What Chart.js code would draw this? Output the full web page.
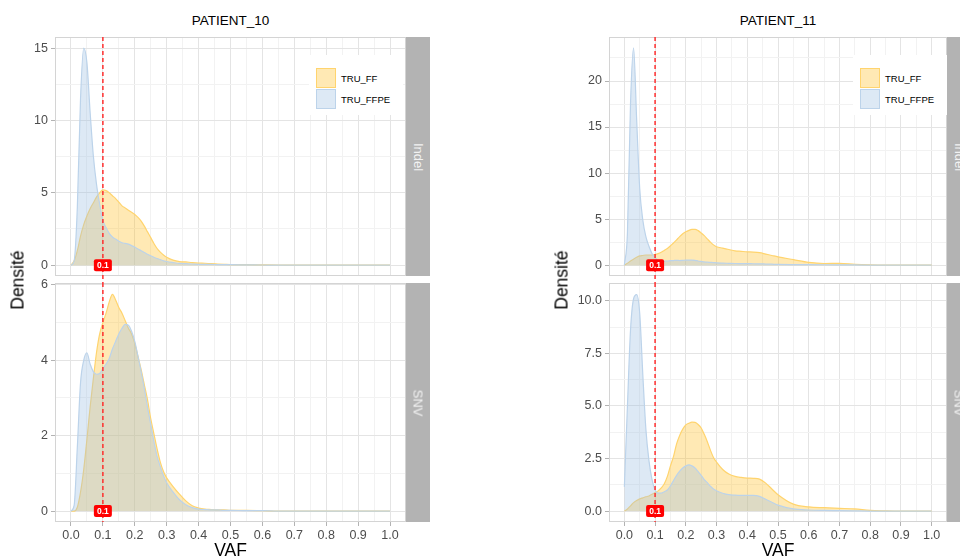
<!DOCTYPE html>
<html>
  <head>
    <meta charset="utf-8">
    <style type="text/css">
    body { margin: 0; width: 960px; height: 560px; overflow: hidden; background: #fff; position: relative; font-family: "Liberation Sans", Arial, sans-serif; }
    canvas { position: absolute; }
    .lbl { position: absolute; white-space: nowrap; transform: translate(-50%, -50%); color: #000; }
    .title { font-size: 13.5px; }
    .axt { font-size: 17.5px; }
    .rot { transform: translate(-50%, -50%) rotate(-90deg); }
    .strip { position: absolute; width: 24px; height: 239px; background: #b3b3b3; overflow: hidden; }
    .strip span { position: absolute; left: 12px; top: 119.5px; color: #f2f2f2; font-size: 13px; white-space: nowrap; transform: translate(-50%, -50%) rotate(90deg); }
    .legend { position: absolute; top: 55px; width: 94px; height: 60px; background: #fff; }
    .key { position: absolute; left: 7px; width: 18px; height: 18px; border: 1px solid; }
    .key-text { position: absolute; left: 32px; font-size: 9.5px; color: #000; transform: translateY(-50%); white-space: nowrap; }
    </style>
  </head>
  <body>
    <script src="https://cdn.jsdelivr.net/npm/chart.js@4.4.1/dist/chart.umd.min.js"></script>

    <canvas id="p10indel"></canvas>
    <canvas id="p10snv"></canvas>
    <canvas id="p11indel"></canvas>
    <canvas id="p11snv"></canvas>

    <div class="lbl title" style="left:230.5px; top:20px;">PATIENT_10</div>
    <div class="lbl title" style="left:778px; top:20px;">PATIENT_11</div>
    <div class="lbl axt rot" style="left:18px; top:280px;">Densité</div>
    <div class="lbl axt rot" style="left:562px; top:280px;">Densité</div>
    <div class="lbl axt" style="left:230.5px; top:550px;">VAF</div>
    <div class="lbl axt" style="left:778px; top:550px;">VAF</div>

    <div class="strip" style="left:406px; top:37px;"><span>Indel</span></div>
    <div class="strip" style="left:406px; top:283px;"><span>SNV</span></div>
    <div class="strip" style="left:947px; top:37px;"><span>Indel</span></div>
    <div class="strip" style="left:947px; top:283px;"><span>SNV</span></div>

    <div class="legend" id="leg1" style="left:309px;"></div>
    <div class="legend" id="leg2" style="left:853px;"></div>

    <script>
      /* datas */
      const seriesNames = ['TRU_FF', 'TRU_FFPE'];
      const cutoff = 0.1;

      // VAF grid shared by all density curves
      const vaf = [0, 0.01, 0.02, 0.03, 0.04, 0.05, 0.06, 0.07, 0.08, 0.09,
        0.10, 0.11, 0.12, 0.13, 0.14, 0.15, 0.16, 0.17, 0.18, 0.19,
        0.20, 0.21, 0.22, 0.23, 0.24, 0.25, 0.26, 0.27, 0.28, 0.29, 0.30,
        0.32, 0.34, 0.36, 0.38, 0.40, 0.42, 0.44, 0.46, 0.48, 0.50,
        0.55, 0.60, 0.65, 0.70, 0.75, 0.80, 0.85, 0.90, 0.95, 1.00];

      const p10IndelFF = [0, 0.3, 1.0, 2.0, 2.8, 3.4, 3.9, 4.3, 4.7, 5.0,
        5.2, 5.15, 5.0, 4.8, 4.6, 4.35, 4.1, 3.95, 3.8, 3.65,
        3.5, 3.3, 3.05, 2.7, 2.3, 1.9, 1.5, 1.15, 0.9, 0.7, 0.55,
        0.35, 0.25, 0.22, 0.18, 0.15, 0.13, 0.10, 0.08, 0.06, 0.04,
        0.03, 0.02, 0.01, 0, 0, 0, 0, 0, 0, 0];
      const p10IndelFFPE = [0, 0.3, 4.0, 11.5, 15.0, 14.0, 10.6, 7.6, 5.6, 4.2,
        3.1, 2.6, 2.2, 1.95, 1.8, 1.65, 1.55, 1.5, 1.45, 1.35,
        1.25, 1.12, 1.0, 0.88, 0.75, 0.65, 0.55, 0.46, 0.38, 0.3, 0.25,
        0.18, 0.12, 0.10, 0.08, 0.06, 0.05, 0.05, 0.04, 0.04, 0.03,
        0.02, 0.01, 0, 0, 0, 0, 0, 0, 0, 0];

      const p10SnvFF = [0, 0, 0.1, 0.5, 1.1, 1.9, 2.75, 3.5, 4.2, 4.7,
        5.0, 5.25, 5.55, 5.75, 5.6, 5.4, 5.25, 5.05, 4.85, 4.7,
        4.45, 4.1, 3.75, 3.35, 2.95, 2.45, 2.05, 1.65, 1.3, 1.05, 0.88,
        0.65, 0.45, 0.27, 0.14, 0.08, 0.05, 0.04, 0.03, 0.03, 0.02,
        0.02, 0.01, 0, 0, 0, 0, 0, 0, 0, 0];
      const p10SnvFFPE = [0, 0.15, 1.7, 3.4, 4.0, 4.2, 3.9, 3.7, 3.63, 3.65,
        3.78, 3.9, 4.05, 4.3, 4.5, 4.7, 4.85, 4.95, 4.93, 4.77,
        4.5, 4.11, 3.7, 3.25, 2.75, 2.3, 1.85, 1.45, 1.18, 0.94, 0.75,
        0.5, 0.3, 0.17, 0.09, 0.05, 0.04, 0.03, 0.03, 0.02, 0.02,
        0.01, 0.01, 0, 0, 0, 0, 0, 0, 0, 0];

      const p11IndelFF = [0, 0.2, 0.45, 0.65, 0.85, 1.0, 1.05, 1.1, 1.1, 1.1,
        1.15, 1.25, 1.4, 1.6, 1.8, 2.1, 2.4, 2.75, 3.1, 3.4,
        3.62, 3.78, 3.88, 3.88, 3.75, 3.5, 3.2, 2.85, 2.5, 2.2, 2.0,
        1.85, 1.7, 1.55, 1.5, 1.45, 1.42, 1.35, 1.2, 1.05, 0.9,
        0.6, 0.3, 0.18, 0.2, 0.08, 0.02, 0, 0, 0, 0];
      const p11IndelFFPE = [0, 3.5, 17.5, 23.6, 15.8, 8.3, 4.9, 3.1, 2.05, 1.25,
        0.78, 0.55, 0.48, 0.45, 0.45, 0.48, 0.5, 0.52, 0.5, 0.52,
        0.55, 0.55, 0.55, 0.52, 0.45, 0.4, 0.35, 0.32, 0.3, 0.28, 0.25,
        0.22, 0.2, 0.18, 0.17, 0.16, 0.15, 0.14, 0.12, 0.1, 0.08,
        0.06, 0.05, 0.04, 0.03, 0.02, 0.01, 0, 0, 0, 0];

      const p11SnvFF = [0, 0.1, 0.25, 0.4, 0.5, 0.58, 0.63, 0.68, 0.72, 0.8,
        0.88, 0.96, 1.1, 1.3, 1.65, 2.15, 2.6, 3.2, 3.6, 3.9,
        4.1, 4.18, 4.23, 4.22, 4.12, 3.95, 3.65, 3.3, 2.9, 2.55, 2.33,
        1.98, 1.76, 1.65, 1.6, 1.57, 1.56, 1.52, 1.33, 1.05, 0.78,
        0.33, 0.2, 0.16, 0.13, 0.1, 0.03, 0.01, 0, 0, 0];
      const p11SnvFFPE = [1.15, 5.0, 8.6, 10.1, 10.3, 9.4, 6.5, 3.9, 2.4, 1.5,
        1.0, 0.85, 0.85, 0.92, 1.0, 1.2, 1.45, 1.7, 1.9, 2.05,
        2.15, 2.2, 2.15, 2.05, 1.88, 1.7, 1.5, 1.35, 1.18, 1.05, 0.97,
        0.85, 0.78, 0.76, 0.75, 0.75, 0.75, 0.7, 0.56, 0.42, 0.28,
        0.1, 0.05, 0.03, 0.02, 0.01, 0, 0, 0, 0, 0];

      /* tick labels */
      const xMajor = [0, 0.1, 0.2, 0.3, 0.4, 0.5, 0.6, 0.7, 0.8, 0.9, 1.0];
      const xMinor = [0.05, 0.15, 0.25, 0.35, 0.45, 0.55, 0.65, 0.75, 0.85, 0.95];
      const p10IndelTicks = [0, 5, 10, 15];
      const p10IndelMinor = [2.5, 7.5, 12.5];
      const p10SnvTicks = [0, 2, 4, 6];
      const p10SnvMinor = [1, 3, 5];
      const p11IndelTicks = [0, 5, 10, 15, 20];
      const p11IndelMinor = [2.5, 7.5, 12.5, 17.5, 22.5];
      const p11SnvTicks = [0, 2.5, 5, 7.5, 10];
      const p11SnvMinor = [1.25, 3.75, 6.25, 8.75];

      /* styles */
      const ffFill = 'rgba(255,192,41,0.35)';
      const ffLine = '#ffd46e';
      const ffpeFill = 'rgba(158,192,226,0.35)';
      const ffpeLine = '#bcd3ea';
      const majorGrid = '#e4e4e4';
      const minorGrid = '#f2f2f2';
      Chart.defaults.font.family = '"Liberation Sans", Arial, sans-serif';

      const panels = [
        { id: 'p10indel', left: 0, top: 30, width: 430, height: 253, padTop: 7, padBottom: 7, padRight: 24,
          yMin: -0.75, yMax: 15.77, major: p10IndelTicks, minor: p10IndelMinor, ff: p10IndelFF, ffpe: p10IndelFFPE, digits: 0, xAxis: false },
        { id: 'p10snv', left: 0, top: 270, width: 430, height: 290, padTop: 13, padBottom: 0, padRight: 24,
          yMin: -0.29, yMax: 6.05, major: p10SnvTicks, minor: p10SnvMinor, ff: p10SnvFF, ffpe: p10SnvFFPE, digits: 0, xAxis: true },
        { id: 'p11indel', left: 554, top: 30, width: 406, height: 253, padTop: 7, padBottom: 7, padRight: 13,
          yMin: -1.18, yMax: 24.78, major: p11IndelTicks, minor: p11IndelMinor, ff: p11IndelFF, ffpe: p11IndelFFPE, digits: 0, xAxis: false },
        { id: 'p11snv', left: 554, top: 270, width: 406, height: 290, padTop: 13, padBottom: 0, padRight: 13,
          yMin: -0.52, yMax: 10.85, major: p11SnvTicks, minor: p11SnvMinor, ff: p11SnvFF, ffpe: p11SnvFFPE, digits: 1, xAxis: true }
      ];

      const isIn = (arr, v) => arr.some(a => Math.abs(a - v) < 1e-9);

      /* border, cutoff line and its label */
      const panelDeco = (p) => ({
        id: 'panelDeco',
        afterDatasetsDraw(chart) {
          const ctx = chart.ctx;
          const a = chart.chartArea;
          const x = chart.scales.x.getPixelForValue(cutoff);
          const y0 = chart.scales.y.getPixelForValue(0);
          ctx.save();
          ctx.strokeStyle = '#d4d4d4';
          ctx.lineWidth = 1;
          ctx.strokeRect(a.left + 0.5, a.top + 0.5, a.right - a.left - 1, a.bottom - a.top - 1);
          ctx.strokeStyle = 'rgba(255,40,40,0.85)';
          ctx.lineWidth = 1.7;
          ctx.setLineDash([4, 3]);
          ctx.beginPath();
          ctx.moveTo(x, a.top);
          ctx.lineTo(x, a.bottom + p.padBottom);
          ctx.stroke();
          ctx.setLineDash([]);
          ctx.fillStyle = '#ff0000';
          ctx.beginPath();
          ctx.roundRect(x - 9, y0 - 6, 18, 12, 2);
          ctx.fill();
          ctx.fillStyle = '#ffffff';
          ctx.font = 'bold 8.5px "Liberation Sans", Arial, sans-serif';
          ctx.textAlign = 'center';
          ctx.textBaseline = 'middle';
          ctx.fillText(cutoff.toFixed(1), x, y0 + 0.5);
          ctx.restore();
        }
      });

      const noPad = (s) => { s.paddingTop = 0; s.paddingBottom = 0; s.paddingLeft = 0; s.paddingRight = 0; };

      function makePanel(p) {
        const cv = document.getElementById(p.id);
        cv.width = p.width;
        cv.height = p.height;
        cv.style.left = p.left + 'px';
        cv.style.top = p.top + 'px';
        const xTicks = xMajor.concat(xMinor).sort((a, b) => a - b);
        const yTicks = p.major.concat(p.minor).sort((a, b) => a - b);
        return new Chart(cv, {
          type: 'line',
          data: {
            datasets: [
              { label: seriesNames[0], data: vaf.map((v, i) => ({ x: v, y: p.ff[i] })),
                borderColor: ffLine, backgroundColor: ffFill, fill: 'origin', order: 2 },
              { label: seriesNames[1], data: vaf.map((v, i) => ({ x: v, y: p.ffpe[i] })),
                borderColor: ffpeLine, backgroundColor: ffpeFill, fill: 'origin', order: 1 }
            ]
          },
          options: {
            responsive: false,
            animation: false,
            layout: { padding: { left: 0, right: p.padRight, top: p.padTop, bottom: p.padBottom } },
            elements: {
              point: { radius: 0 },
              line: { borderWidth: 1.2, cubicInterpolationMode: 'monotone' }
            },
            plugins: { legend: { display: false }, tooltip: { enabled: false } },
            scales: {
              x: {
                type: 'linear', min: -0.05, max: 1.05,
                afterBuildTicks: s => { s.ticks = xTicks.map(v => ({ value: v })); },
                afterFit: s => { s.height = p.xAxis ? 38 : 0; noPad(s); },
                border: { display: false },
                grid: {
                  color: c => isIn(xMajor, c.tick.value) ? majorGrid : minorGrid,
                  drawTicks: p.xAxis, tickLength: 4,
                  tickColor: c => isIn(xMajor, c.tick.value) ? '#b3b3b3' : 'rgba(0,0,0,0)'
                },
                ticks: {
                  display: p.xAxis, autoSkip: false, maxRotation: 0, padding: 2,
                  color: '#4d4d4d', font: { size: 12.5 },
                  callback: v => isIn(xMajor, v) ? v.toFixed(1) : ''
                }
              },
              y: {
                type: 'linear', min: p.yMin, max: p.yMax,
                afterBuildTicks: s => { s.ticks = yTicks.map(v => ({ value: v })); },
                afterFit: s => { s.width = 55; noPad(s); },
                border: { display: false },
                grid: {
                  color: c => isIn(p.major, c.tick.value) ? majorGrid : minorGrid,
                  tickLength: 4,
                  tickColor: c => isIn(p.major, c.tick.value) ? '#b3b3b3' : 'rgba(0,0,0,0)'
                },
                ticks: {
                  autoSkip: false, padding: 3, color: '#4d4d4d', font: { size: 12.5 },
                  callback: v => isIn(p.major, v) ? v.toFixed(p.digits) : ''
                }
              }
            }
          },
          plugins: [panelDeco(p)]
        });
      }

      const charts = panels.map(makePanel);

      /* legends inside the top panels */
      function makeLegend(id) {
        const box = document.getElementById(id);
        const fills = [ffFill, ffpeFill];
        const lines = [ffLine, ffpeLine];
        seriesNames.forEach((name, i) => {
          const key = document.createElement('div');
          key.className = 'key';
          key.style.top = (13 + i * 21) + 'px';
          key.style.background = fills[i];
          key.style.borderColor = lines[i];
          box.appendChild(key);
          const t = document.createElement('div');
          t.className = 'key-text';
          t.style.top = (23 + i * 21) + 'px';
          t.textContent = name;
          box.appendChild(t);
        });
      }
      makeLegend('leg1');
      makeLegend('leg2');
    </script>
  </body>
</html>
